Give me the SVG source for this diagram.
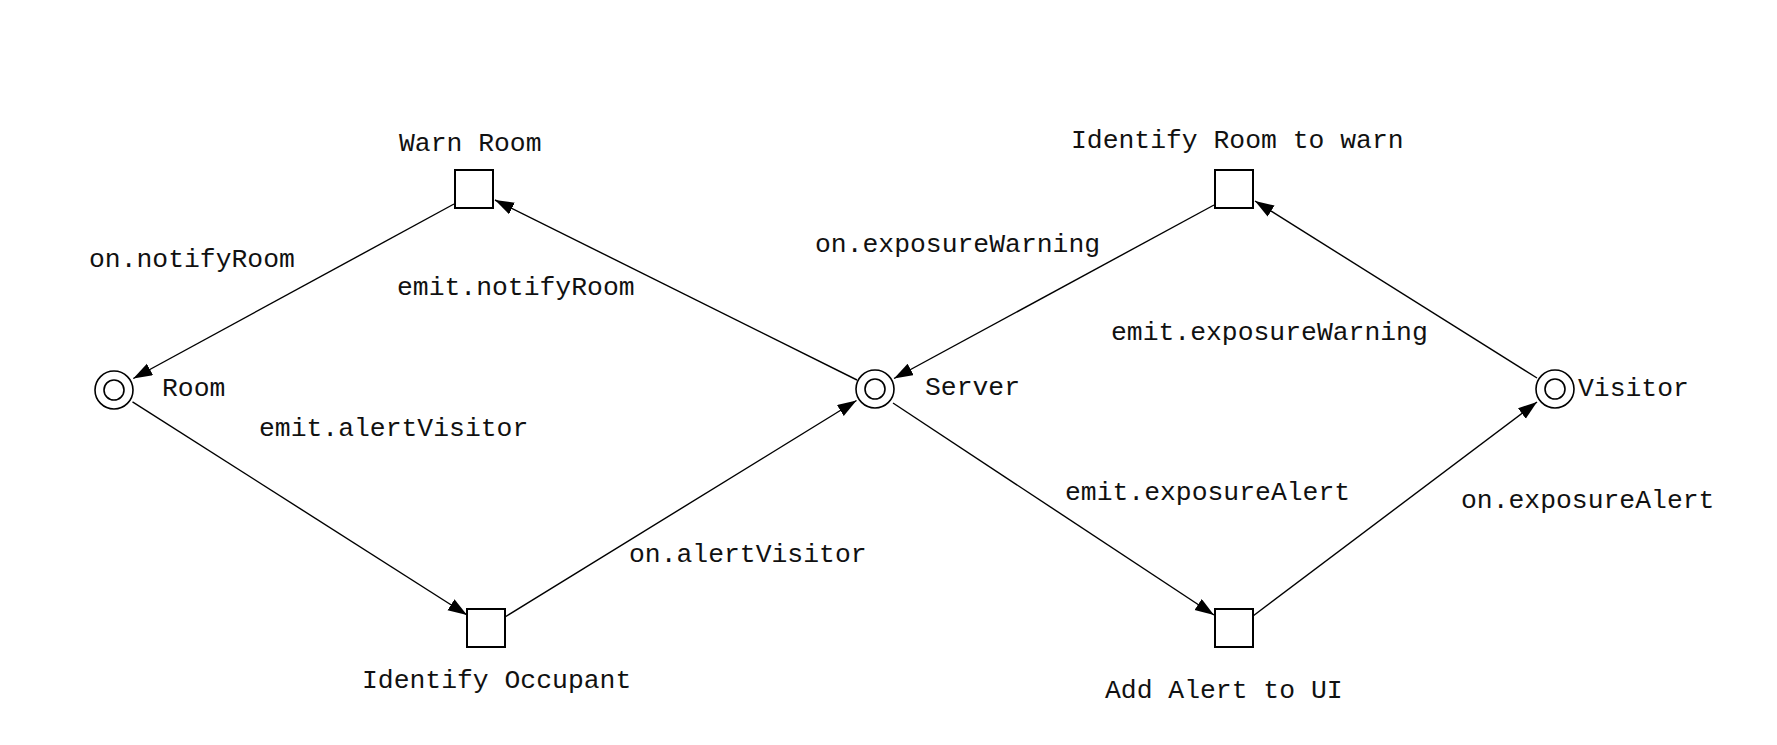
<svg xmlns="http://www.w3.org/2000/svg" width="1777" height="745" viewBox="0 0 1777 745">
<style>
.lbl{font-family:"Liberation Mono","Courier New",monospace;font-size:26.4px;fill:#111}
.t{fill:#fff;stroke:#000;stroke-width:2}
.p{fill:#fff;stroke:#000;stroke-width:1.6}
.e{stroke:#000;stroke-width:1.4;fill:none;marker-end:url(#ah)}
</style>
<defs>
<marker id="ah" markerUnits="userSpaceOnUse" markerWidth="20" markerHeight="14" refX="19" refY="6.5" orient="auto">
<path d="M0,0 L19,6.5 L0,13 z" fill="#000"/>
</marker>
</defs>
<rect width="1777" height="745" fill="#fff"/>
<g id="connectors">
<line class="e" x1="454" y1="204" x2="133.3" y2="378.5"/>
<line class="e" x1="132.5" y1="401.8" x2="467" y2="615"/>
<line class="e" x1="505" y1="617" x2="856.5" y2="400.5"/>
<line class="e" x1="857" y1="380" x2="495" y2="200"/>
<line class="e" x1="1214" y1="205" x2="894" y2="378.5"/>
<line class="e" x1="1537" y1="378" x2="1255" y2="201"/>
<line class="e" x1="893" y1="403" x2="1214" y2="615"/>
<line class="e" x1="1253" y1="616" x2="1537" y2="402"/>
<text class="lbl" x="89" y="267">on.notifyRoom</text>
<text class="lbl" x="397" y="295">emit.notifyRoom</text>
<text class="lbl" x="259" y="436">emit.alertVisitor</text>
<text class="lbl" x="629" y="562">on.alertVisitor</text>
<text class="lbl" x="815" y="252">on.exposureWarning</text>
<text class="lbl" x="1111" y="340">emit.exposureWarning</text>
<text class="lbl" x="1065" y="500">emit.exposureAlert</text>
<text class="lbl" x="1461" y="508">on.exposureAlert</text>
</g>
<g id="warn-room">
<rect class="t" x="455" y="170" width="38" height="38"/>
<text class="lbl" x="399" y="151">Warn Room</text>
</g>
<g id="identify-occupant">
<rect class="t" x="467" y="609" width="38" height="38"/>
<text class="lbl" x="362" y="688">Identify Occupant</text>
</g>
<g id="identify-room-to-warn">
<rect class="t" x="1215" y="170" width="38" height="38"/>
<text class="lbl" x="1071" y="148">Identify Room to warn</text>
</g>
<g id="add-alert-to-ui">
<rect class="t" x="1215" y="609" width="38" height="38"/>
<text class="lbl" x="1105" y="698">Add Alert to UI</text>
</g>
<g id="room">
<circle class="p" cx="114" cy="390" r="19"/>
<circle class="p" cx="114" cy="390" r="10"/>
<text class="lbl" x="162" y="396">Room</text>
</g>
<g id="server">
<circle class="p" cx="875" cy="389" r="19"/>
<circle class="p" cx="875" cy="389" r="10"/>
<text class="lbl" x="925" y="395">Server</text>
</g>
<g id="visitor">
<circle class="p" cx="1555" cy="389" r="19"/>
<circle class="p" cx="1555" cy="389" r="10"/>
<text class="lbl" x="1578" y="396">Visitor</text>
</g>
</svg>
